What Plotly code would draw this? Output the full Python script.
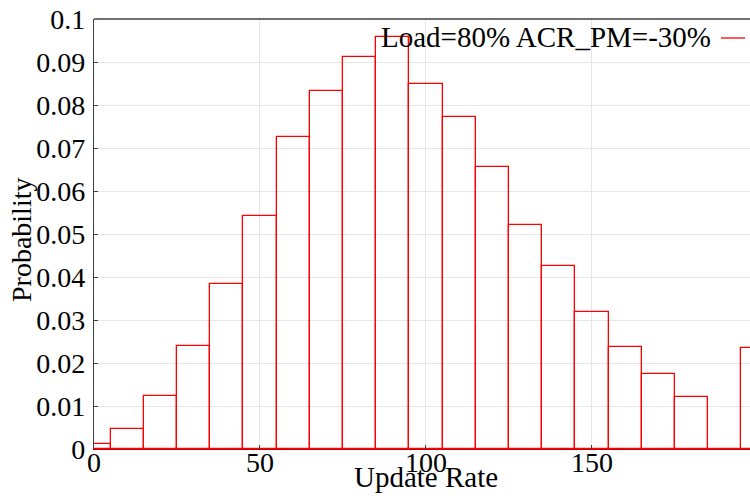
import plotly.graph_objects as go

update_rate = [0, 10, 20, 30, 40, 50, 60, 70, 80, 90, 100, 110, 120, 130, 140, 150, 160, 170, 180, 190, 200]
probability = [0.0011, 0.0047, 0.0124, 0.0240, 0.0384, 0.0542, 0.0725, 0.0833, 0.0911, 0.0959, 0.0848,
               0.0771, 0.0656, 0.0521, 0.0426, 0.0319, 0.0237, 0.0174, 0.0121, 0.0, 0.0234]
series_name = "Load=80% ACR_PM=-30%"
x_ticks = [0, 50, 100, 150]
y_ticks = [0, 0.01, 0.02, 0.03, 0.04, 0.05, 0.06, 0.07, 0.08, 0.09, 0.1]
y_tick_labels = ["0", "0.01", "0.02", "0.03", "0.04", "0.05", "0.06", "0.07", "0.08", "0.09", "0.1"]

FONT = "Liberation Serif"
W, H = 750, 498
L, R, T, B = 94, 0, 19, 49
pw, ph = W - L - R, H - T - B
BIN = 10

fig = go.Figure()
fig.add_trace(go.Bar(
    x=[v - BIN / 2 for v in update_rate], y=probability, width=BIN, offset=0, name=series_name,
    marker=dict(color="rgba(255,255,255,0)", line=dict(color="#ff0000", width=1.3)),
    showlegend=False, hoverinfo="skip",
))

def px_x(p):
    return (p - L) / pw

def px_y(p):
    return 1 - (p - T) / ph

fig.update_layout(
    width=W, height=H,
    margin=dict(l=L, r=R, t=T, b=B, autoexpand=False),
    paper_bgcolor="white", plot_bgcolor="white",
    font=dict(family=FONT, size=28, color="black"),
    bargap=0,
    xaxis=dict(range=[0, 197.6], tickvals=x_ticks, ticktext=[str(v) for v in x_ticks],
               automargin=False,
               showgrid=True, gridcolor="#e6e6e6", gridwidth=1, zeroline=False,
               showline=True, linecolor="#c00000", linewidth=1.3,
               ticks="inside", ticklen=4, tickcolor="#404040", ticklabelstandoff=-12,
               tickfont=dict(family=FONT, size=28)),
    yaxis=dict(range=[0, 0.1], tickvals=y_ticks, ticktext=y_tick_labels,
               automargin=False,
               showgrid=True, gridcolor="#e6e6e6", gridwidth=1, zeroline=False,
               showline=True, linecolor="#404040", linewidth=1.3,
               ticks="inside", ticklen=4, tickcolor="#404040", ticklabelstandoff=2,
               tickfont=dict(family=FONT, size=28)),
    annotations=[
        dict(text="Probability", xref="paper", yref="paper", x=px_x(22), y=px_y(240),
             xanchor="center", yanchor="middle", textangle=-90, showarrow=False,
             font=dict(family=FONT, size=28)),
        dict(text="Update Rate", xref="paper", yref="paper", x=px_x(426), y=px_y(477),
             xanchor="center", yanchor="middle", showarrow=False,
             font=dict(family=FONT, size=29)),
        dict(text=series_name, xref="paper", yref="paper", x=px_x(713), y=px_y(37),
             xanchor="right", yanchor="middle", showarrow=False,
             font=dict(family=FONT, size=29)),
    ],
    shapes=[
        dict(type="line", xref="paper", yref="paper", x0=0, x1=1, y0=1, y1=1,
             line=dict(color="#404040", width=1.3)),
        dict(type="line", xref="paper", yref="paper", x0=px_x(721), x1=px_x(745),
             y0=px_y(38), y1=px_y(38), line=dict(color="#ff0000", width=1.3)),
    ],
)

fig.write_html("out.html", config={"displayModeBar": False},
               post_script="document.body.style.margin='0';document.body.style.overflow='hidden';")
